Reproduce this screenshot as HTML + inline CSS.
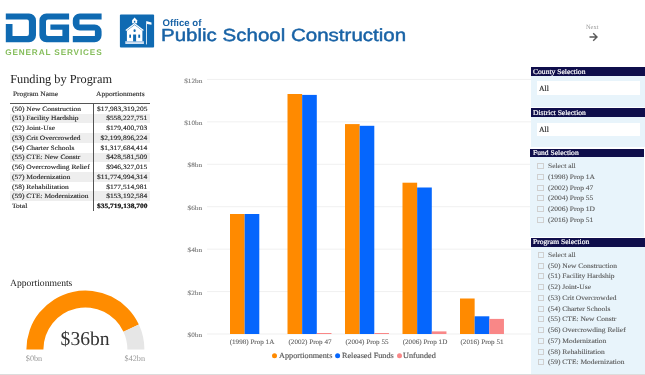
<!DOCTYPE html>
<html><head><meta charset="utf-8">
<style>
html,body{margin:0;padding:0;background:#fff;width:645px;height:375px;overflow:hidden;position:relative;text-rendering:geometricPrecision}
*{box-sizing:border-box}
svg{position:absolute;left:0;top:0}
</style></head><body><div style="position:absolute;left:0;top:0;width:645px;height:375px;will-change:transform">
<svg width="645" height="375" viewBox="0 0 645 375">
<g fill="#0f6ab2">
<path d="M5.8 13.4 H29 A7 7 0 0 1 36 20.4 V35.2 A7 7 0 0 1 29 42.2 H5.8 V23.9 H12.5 V35.9 H27 A1.9 1.9 0 0 0 28.9 34 V21.5 A1.9 1.9 0 0 0 27 19.6 H5.8 Z"/>
<path d="M69.1 13.4 H46.4 A7 7 0 0 0 39.4 20.4 V35.2 A7 7 0 0 0 46.4 42.2 H69.1 V24.4 H50.4 V29.7 H62.4 V35.9 H48 A2 2 0 0 1 46 33.9 V21.6 A2 2 0 0 1 48 19.6 H69.1 Z"/>
<path d="M101.6 13.4 H79.8 A7 7 0 0 0 72.8 20.4 V23.6 A7 7 0 0 0 79.8 30.6 H94.9 V35.9 H72.8 V42.2 H94.6 A7 7 0 0 0 101.6 35.2 V31.4 A7 7 0 0 0 94.6 24.4 H79.5 V19.6 H101.6 Z"/>
</g>
<rect x="119.9" y="14.4" width="34.2" height="33.0" rx="1" fill="#0f6ab2"/>
<g fill="#fff">
<path d="M132.1 23.2 V20.3 L134.6 17.6 L137.1 20.3 V23.2 Z"/>
<path d="M125.4 30.0 L134.6 22.9 L143.8 30.0 L143.0 30.9 L134.6 24.4 L126.2 30.9 Z"/>
<path d="M126.9 30.8 L134.6 25.0 L142.4 30.8 V41.4 H126.9 Z"/>
<rect x="146.2" y="21.2" width="0.8" height="23.2"/>
<path d="M147.0 21.3 L151.5 22.4 L151.5 24.8 L147.0 23.9 Z"/>
</g>
<rect x="125.3" y="41.4" width="18.6" height="2.6" fill="#d4e3f2"/>
<rect x="125.3" y="41.4" width="18.6" height="0.9" fill="#a9c6e6"/>
<g fill="#0f6ab2">
<rect x="133.9" y="20.8" width="1.4" height="1.8"/>
<ellipse cx="134.6" cy="30.7" rx="1.1" ry="1.4"/>
<rect x="133.1" y="34.5" width="3.0" height="6.9"/>
<rect x="129.3" y="34.6" width="1.7" height="3.2"/>
<rect x="138.3" y="34.6" width="1.8" height="3.2"/>
</g>
<path d="M589.5 37 H596.5 M593.2 33.3 L597 37 L593.2 40.7" stroke="#5a5a5a" stroke-width="1.4" fill="none"/>
</svg>
<div style="position:absolute;top:48.86px;font-family:'Liberation Sans',sans-serif;font-size:8.2px;line-height:1;white-space:nowrap;color:#86be5c;font-weight:bold;letter-spacing:0.87px;left:5.20px;">GENERAL SERVICES</div>
<div style="position:absolute;top:19.07px;font-family:'Liberation Sans',sans-serif;font-size:9.6px;line-height:1;white-space:nowrap;color:#1963a6;font-weight:bold;left:162.50px;">Office of</div>
<div style="position:absolute;top:27.39px;font-family:'Liberation Sans',sans-serif;font-size:17.5px;line-height:1;white-space:nowrap;color:#1963a6;left:161.30px;transform:scaleX(1.172);transform-origin:0 0;-webkit-text-stroke:0.45px #1963a6;">Public School Construction</div>
<div style="position:absolute;top:24.94px;font-family:'Liberation Serif',serif;font-size:6.4px;line-height:1;white-space:nowrap;color:#999;left:586.00px;">Next</div>
<div style="position:absolute;top:72.70px;font-family:'Liberation Serif',serif;font-size:12.3px;line-height:1;white-space:nowrap;color:#222;left:10.20px;">Funding by Program</div>
<div style="position:absolute;top:92.31px;font-family:'Liberation Serif',serif;font-size:6.8px;line-height:1;white-space:nowrap;color:#333;left:12.70px;transform:scaleX(1.09);transform-origin:0 0;-webkit-text-stroke:0.15px #333;">Program Name</div>
<div style="position:absolute;top:92.31px;font-family:'Liberation Serif',serif;font-size:6.8px;line-height:1;white-space:nowrap;color:#333;left:96.40px;transform:scaleX(1.1);transform-origin:0 0;-webkit-text-stroke:0.15px #333;">Apportionments</div>
<div style="position:absolute;left:10.00px;top:113.72px;width:140.00px;height:9.72px;background:#eeeeee;"></div>
<div style="position:absolute;left:10.00px;top:133.16px;width:140.00px;height:9.72px;background:#eeeeee;"></div>
<div style="position:absolute;left:10.00px;top:152.60px;width:140.00px;height:9.72px;background:#eeeeee;"></div>
<div style="position:absolute;left:10.00px;top:172.04px;width:140.00px;height:9.72px;background:#eeeeee;"></div>
<div style="position:absolute;left:10.00px;top:191.48px;width:140.00px;height:9.72px;background:#eeeeee;"></div>
<div style="position:absolute;top:106.77px;font-family:'Liberation Serif',serif;font-size:6.6px;line-height:1;white-space:nowrap;color:#222;left:12.30px;transform:scaleX(1.134);transform-origin:0 0;-webkit-text-stroke:0.12px #222;">(50) New Construction</div>
<div style="position:absolute;top:106.77px;font-family:'Liberation Serif',serif;font-size:6.6px;line-height:1;white-space:nowrap;color:#222;right:497.40px;transform:scaleX(1.134);transform-origin:100% 0;-webkit-text-stroke:0.12px #222;">$17,983,319,205</div>
<div style="position:absolute;top:116.49px;font-family:'Liberation Serif',serif;font-size:6.6px;line-height:1;white-space:nowrap;color:#222;left:12.30px;transform:scaleX(1.134);transform-origin:0 0;-webkit-text-stroke:0.12px #222;">(51) Facility Hardship</div>
<div style="position:absolute;top:116.49px;font-family:'Liberation Serif',serif;font-size:6.6px;line-height:1;white-space:nowrap;color:#222;right:497.40px;transform:scaleX(1.134);transform-origin:100% 0;-webkit-text-stroke:0.12px #222;">$558,227,751</div>
<div style="position:absolute;top:126.21px;font-family:'Liberation Serif',serif;font-size:6.6px;line-height:1;white-space:nowrap;color:#222;left:12.30px;transform:scaleX(1.134);transform-origin:0 0;-webkit-text-stroke:0.12px #222;">(52) Joint-Use</div>
<div style="position:absolute;top:126.21px;font-family:'Liberation Serif',serif;font-size:6.6px;line-height:1;white-space:nowrap;color:#222;right:497.40px;transform:scaleX(1.134);transform-origin:100% 0;-webkit-text-stroke:0.12px #222;">$179,400,703</div>
<div style="position:absolute;top:135.93px;font-family:'Liberation Serif',serif;font-size:6.6px;line-height:1;white-space:nowrap;color:#222;left:12.30px;transform:scaleX(1.134);transform-origin:0 0;-webkit-text-stroke:0.12px #222;">(53) Crit Overcrowded</div>
<div style="position:absolute;top:135.93px;font-family:'Liberation Serif',serif;font-size:6.6px;line-height:1;white-space:nowrap;color:#222;right:497.40px;transform:scaleX(1.134);transform-origin:100% 0;-webkit-text-stroke:0.12px #222;">$2,199,896,224</div>
<div style="position:absolute;top:145.65px;font-family:'Liberation Serif',serif;font-size:6.6px;line-height:1;white-space:nowrap;color:#222;left:12.30px;transform:scaleX(1.134);transform-origin:0 0;-webkit-text-stroke:0.12px #222;">(54) Charter Schools</div>
<div style="position:absolute;top:145.65px;font-family:'Liberation Serif',serif;font-size:6.6px;line-height:1;white-space:nowrap;color:#222;right:497.40px;transform:scaleX(1.134);transform-origin:100% 0;-webkit-text-stroke:0.12px #222;">$1,317,684,414</div>
<div style="position:absolute;top:155.37px;font-family:'Liberation Serif',serif;font-size:6.6px;line-height:1;white-space:nowrap;color:#222;left:12.30px;transform:scaleX(1.134);transform-origin:0 0;-webkit-text-stroke:0.12px #222;">(55) CTE: New Constr</div>
<div style="position:absolute;top:155.37px;font-family:'Liberation Serif',serif;font-size:6.6px;line-height:1;white-space:nowrap;color:#222;right:497.40px;transform:scaleX(1.134);transform-origin:100% 0;-webkit-text-stroke:0.12px #222;">$428,581,509</div>
<div style="position:absolute;top:165.09px;font-family:'Liberation Serif',serif;font-size:6.6px;line-height:1;white-space:nowrap;color:#222;left:12.30px;transform:scaleX(1.134);transform-origin:0 0;-webkit-text-stroke:0.12px #222;">(56) Overcrowding Relief</div>
<div style="position:absolute;top:165.09px;font-family:'Liberation Serif',serif;font-size:6.6px;line-height:1;white-space:nowrap;color:#222;right:497.40px;transform:scaleX(1.134);transform-origin:100% 0;-webkit-text-stroke:0.12px #222;">$946,327,015</div>
<div style="position:absolute;top:174.81px;font-family:'Liberation Serif',serif;font-size:6.6px;line-height:1;white-space:nowrap;color:#222;left:12.30px;transform:scaleX(1.134);transform-origin:0 0;-webkit-text-stroke:0.12px #222;">(57) Modernization</div>
<div style="position:absolute;top:174.81px;font-family:'Liberation Serif',serif;font-size:6.6px;line-height:1;white-space:nowrap;color:#222;right:497.40px;transform:scaleX(1.134);transform-origin:100% 0;-webkit-text-stroke:0.12px #222;">$11,774,994,314</div>
<div style="position:absolute;top:184.53px;font-family:'Liberation Serif',serif;font-size:6.6px;line-height:1;white-space:nowrap;color:#222;left:12.30px;transform:scaleX(1.134);transform-origin:0 0;-webkit-text-stroke:0.12px #222;">(58) Rehabilitation</div>
<div style="position:absolute;top:184.53px;font-family:'Liberation Serif',serif;font-size:6.6px;line-height:1;white-space:nowrap;color:#222;right:497.40px;transform:scaleX(1.134);transform-origin:100% 0;-webkit-text-stroke:0.12px #222;">$177,514,981</div>
<div style="position:absolute;top:194.25px;font-family:'Liberation Serif',serif;font-size:6.6px;line-height:1;white-space:nowrap;color:#222;left:12.30px;transform:scaleX(1.134);transform-origin:0 0;-webkit-text-stroke:0.12px #222;">(59) CTE: Modernization</div>
<div style="position:absolute;top:194.25px;font-family:'Liberation Serif',serif;font-size:6.6px;line-height:1;white-space:nowrap;color:#222;right:497.40px;transform:scaleX(1.134);transform-origin:100% 0;-webkit-text-stroke:0.12px #222;">$153,192,584</div>
<div style="position:absolute;top:203.97px;font-family:'Liberation Serif',serif;font-size:6.6px;line-height:1;white-space:nowrap;color:#222;left:12.30px;transform:scaleX(1.134);transform-origin:0 0;-webkit-text-stroke:0.12px #222;">Total</div>
<div style="position:absolute;top:203.97px;font-family:'Liberation Serif',serif;font-size:6.6px;line-height:1;white-space:nowrap;color:#111;font-weight:bold;right:497.40px;transform:scaleX(1.134);transform-origin:100% 0;-webkit-text-stroke:0.2px #111;">$35,719,138,700</div>
<div style="position:absolute;left:10.00px;top:103.00px;width:140.00px;height:1.20px;background:#555;"></div>
<div style="position:absolute;left:93.00px;top:103.00px;width:1.10px;height:107.80px;background:#555;"></div>
<svg width="645" height="375" viewBox="0 0 645 375"><path fill="#ff8c00" d="M26.40 349.50 A59.0 59.0 0 0 1 138.86 324.55 L123.46 331.74 A42.0 42.0 0 0 0 43.40 349.50 Z"/><path fill="#e6e6e6" d="M138.86 324.55 A59.0 59.0 0 0 1 144.40 349.50 L127.40 349.50 A42.0 42.0 0 0 0 123.46 331.74 Z"/></svg>
<div style="position:absolute;top:278.96px;font-family:'Liberation Serif',serif;font-size:9.6px;line-height:1;white-space:nowrap;color:#222;left:10.00px;">Apportionments</div>
<div style="position:absolute;top:329.98px;font-family:'Liberation Serif',serif;font-size:19.6px;line-height:1;white-space:nowrap;color:#333;left:-114.90px;width:400px;text-align:center;">$36bn</div>
<div style="position:absolute;top:354.63px;font-family:'Liberation Serif',serif;font-size:8.2px;line-height:1;white-space:nowrap;color:#999;left:25.80px;">$0bn</div>
<div style="position:absolute;top:354.63px;font-family:'Liberation Serif',serif;font-size:8.2px;line-height:1;white-space:nowrap;color:#999;right:500.00px;">$42bn</div>
<svg width="645" height="375" viewBox="0 0 645 375"><rect x="207" y="333.50" width="324" height="1" fill="#f0f0f0"/><rect x="207" y="291.07" width="324" height="1" fill="#f0f0f0"/><rect x="207" y="248.64" width="324" height="1" fill="#f0f0f0"/><rect x="207" y="206.21" width="324" height="1" fill="#f0f0f0"/><rect x="207" y="163.78" width="324" height="1" fill="#f0f0f0"/><rect x="207" y="121.35" width="324" height="1" fill="#f0f0f0"/><rect x="207" y="78.92" width="324" height="1" fill="#f0f0f0"/><rect x="230.00" y="214" width="14.65" height="120.00" fill="#ff8a00"/><rect x="244.65" y="214" width="14.65" height="120.00" fill="#0566fd"/><rect x="287.50" y="94.0" width="14.65" height="240.00" fill="#ff8a00"/><rect x="302.15" y="94.9" width="14.65" height="239.10" fill="#0566fd"/><rect x="316.80" y="333" width="14.65" height="1.00" fill="#f98787"/><rect x="345.00" y="124.1" width="14.65" height="209.90" fill="#ff8a00"/><rect x="359.65" y="125.8" width="14.65" height="208.20" fill="#0566fd"/><rect x="374.30" y="333" width="14.65" height="1.00" fill="#f98787"/><rect x="402.50" y="182.7" width="14.65" height="151.30" fill="#ff8a00"/><rect x="417.15" y="187.5" width="14.65" height="146.50" fill="#0566fd"/><rect x="431.80" y="331.4" width="14.65" height="2.60" fill="#f98787"/><rect x="460.00" y="298.5" width="14.65" height="35.50" fill="#ff8a00"/><rect x="474.65" y="316.3" width="14.65" height="17.70" fill="#0566fd"/><rect x="489.30" y="318.9" width="14.65" height="15.10" fill="#f98787"/><circle cx="274.5" cy="355.7" r="2.5" fill="#ff8a00"/><circle cx="337.6" cy="355.7" r="2.5" fill="#0566fd"/><circle cx="399.5" cy="355.7" r="2.5" fill="#f98787"/></svg>
<div style="position:absolute;top:333.16px;font-family:'Liberation Serif',serif;font-size:6.5px;line-height:1;white-space:nowrap;color:#777;right:443.00px;transform:scaleX(1.11);transform-origin:100% 0;-webkit-text-stroke:0.1px #777;">$0bn</div>
<div style="position:absolute;top:290.73px;font-family:'Liberation Serif',serif;font-size:6.5px;line-height:1;white-space:nowrap;color:#777;right:443.00px;transform:scaleX(1.11);transform-origin:100% 0;-webkit-text-stroke:0.1px #777;">$2bn</div>
<div style="position:absolute;top:248.30px;font-family:'Liberation Serif',serif;font-size:6.5px;line-height:1;white-space:nowrap;color:#777;right:443.00px;transform:scaleX(1.11);transform-origin:100% 0;-webkit-text-stroke:0.1px #777;">$4bn</div>
<div style="position:absolute;top:205.87px;font-family:'Liberation Serif',serif;font-size:6.5px;line-height:1;white-space:nowrap;color:#777;right:443.00px;transform:scaleX(1.11);transform-origin:100% 0;-webkit-text-stroke:0.1px #777;">$6bn</div>
<div style="position:absolute;top:163.44px;font-family:'Liberation Serif',serif;font-size:6.5px;line-height:1;white-space:nowrap;color:#777;right:443.00px;transform:scaleX(1.11);transform-origin:100% 0;-webkit-text-stroke:0.1px #777;">$8bn</div>
<div style="position:absolute;top:121.01px;font-family:'Liberation Serif',serif;font-size:6.5px;line-height:1;white-space:nowrap;color:#777;right:443.00px;transform:scaleX(1.11);transform-origin:100% 0;-webkit-text-stroke:0.1px #777;">$10bn</div>
<div style="position:absolute;top:78.58px;font-family:'Liberation Serif',serif;font-size:6.5px;line-height:1;white-space:nowrap;color:#777;right:443.00px;transform:scaleX(1.11);transform-origin:100% 0;-webkit-text-stroke:0.1px #777;">$12bn</div>
<div style="position:absolute;top:339.61px;font-family:'Liberation Serif',serif;font-size:6.8px;line-height:1;white-space:nowrap;color:#606060;left:52.47px;width:400px;text-align:center;transform:scaleX(1.045);transform-origin:50% 0;-webkit-text-stroke:0.1px #606060;">(1998) Prop 1A</div>
<div style="position:absolute;top:339.61px;font-family:'Liberation Serif',serif;font-size:6.8px;line-height:1;white-space:nowrap;color:#606060;left:109.98px;width:400px;text-align:center;transform:scaleX(1.045);transform-origin:50% 0;-webkit-text-stroke:0.1px #606060;">(2002) Prop 47</div>
<div style="position:absolute;top:339.61px;font-family:'Liberation Serif',serif;font-size:6.8px;line-height:1;white-space:nowrap;color:#606060;left:167.48px;width:400px;text-align:center;transform:scaleX(1.045);transform-origin:50% 0;-webkit-text-stroke:0.1px #606060;">(2004) Prop 55</div>
<div style="position:absolute;top:339.61px;font-family:'Liberation Serif',serif;font-size:6.8px;line-height:1;white-space:nowrap;color:#606060;left:224.98px;width:400px;text-align:center;transform:scaleX(1.045);transform-origin:50% 0;-webkit-text-stroke:0.1px #606060;">(2006) Prop 1D</div>
<div style="position:absolute;top:339.61px;font-family:'Liberation Serif',serif;font-size:6.8px;line-height:1;white-space:nowrap;color:#606060;left:282.48px;width:400px;text-align:center;transform:scaleX(1.045);transform-origin:50% 0;-webkit-text-stroke:0.1px #606060;">(2016) Prop 51</div>
<div style="position:absolute;top:351.88px;font-family:'Liberation Serif',serif;font-size:7.9px;line-height:1;white-space:nowrap;color:#555;left:279.00px;transform:scaleX(1.04);transform-origin:0 0;-webkit-text-stroke:0.15px #555;">Apportionments</div>
<div style="position:absolute;top:351.88px;font-family:'Liberation Serif',serif;font-size:7.9px;line-height:1;white-space:nowrap;color:#555;left:341.50px;transform:scaleX(1.04);transform-origin:0 0;-webkit-text-stroke:0.15px #555;">Released Funds</div>
<div style="position:absolute;top:351.88px;font-family:'Liberation Serif',serif;font-size:7.9px;line-height:1;white-space:nowrap;color:#555;left:403.20px;transform:scaleX(1.04);transform-origin:0 0;-webkit-text-stroke:0.15px #555;">Unfunded</div>
<div style="position:absolute;left:531.00px;top:67.20px;width:114.00px;height:8.60px;background:#0f0e4b;"></div>
<div style="position:absolute;top:68.77px;font-family:'Liberation Serif',serif;font-size:7.2px;line-height:1;white-space:nowrap;color:#fff;left:533.30px;transform:scaleX(1.055);transform-origin:0 0;-webkit-text-stroke:0.2px #fff;">County Selection</div>
<div style="position:absolute;left:531.00px;top:75.80px;width:114.00px;height:31.00px;background:#e8f4fb;"></div>
<div style="position:absolute;left:536.50px;top:81.00px;width:103.80px;height:14.30px;background:#fff;"></div>
<div style="position:absolute;top:84.85px;font-family:'Liberation Serif',serif;font-size:7.7px;line-height:1;white-space:nowrap;color:#222;left:539.00px;-webkit-text-stroke:0.15px #222;">All</div>
<div style="position:absolute;left:531.00px;top:108.40px;width:114.00px;height:8.40px;background:#0f0e4b;"></div>
<div style="position:absolute;top:109.97px;font-family:'Liberation Serif',serif;font-size:7.2px;line-height:1;white-space:nowrap;color:#fff;left:533.30px;transform:scaleX(1.055);transform-origin:0 0;-webkit-text-stroke:0.2px #fff;">District Selection</div>
<div style="position:absolute;left:531.00px;top:116.80px;width:114.00px;height:29.90px;background:#e8f4fb;"></div>
<div style="position:absolute;left:536.50px;top:122.50px;width:103.80px;height:13.10px;background:#fff;"></div>
<div style="position:absolute;top:125.55px;font-family:'Liberation Serif',serif;font-size:7.7px;line-height:1;white-space:nowrap;color:#222;left:539.00px;-webkit-text-stroke:0.15px #222;">All</div>
<div style="position:absolute;left:530.30px;top:148.70px;width:113.90px;height:8.30px;background:#0f0e4b;"></div>
<div style="position:absolute;top:150.27px;font-family:'Liberation Serif',serif;font-size:7.2px;line-height:1;white-space:nowrap;color:#fff;left:532.60px;transform:scaleX(1.055);transform-origin:0 0;-webkit-text-stroke:0.2px #fff;">Fund Selection</div>
<div style="position:absolute;left:530.30px;top:157.00px;width:113.90px;height:80.30px;background:#e8f4fb;"></div>
<div style="position:absolute;left:537.10px;top:162.90px;width:6.50px;height:6.00px;background:transparent;border:1px solid #d0d0d0;"></div>
<div style="position:absolute;top:163.91px;font-family:'Liberation Serif',serif;font-size:6.8px;line-height:1;white-space:nowrap;color:#585858;left:547.80px;transform:scaleX(1.1);transform-origin:0 0;-webkit-text-stroke:0.1px #585858;">Select all</div>
<div style="position:absolute;left:537.10px;top:173.70px;width:6.50px;height:6.00px;background:transparent;border:1px solid #d0d0d0;"></div>
<div style="position:absolute;top:174.71px;font-family:'Liberation Serif',serif;font-size:6.8px;line-height:1;white-space:nowrap;color:#585858;left:547.80px;transform:scaleX(1.1);transform-origin:0 0;-webkit-text-stroke:0.1px #585858;">(1998) Prop 1A</div>
<div style="position:absolute;left:537.10px;top:184.50px;width:6.50px;height:6.00px;background:transparent;border:1px solid #d0d0d0;"></div>
<div style="position:absolute;top:185.50px;font-family:'Liberation Serif',serif;font-size:6.8px;line-height:1;white-space:nowrap;color:#585858;left:547.80px;transform:scaleX(1.1);transform-origin:0 0;-webkit-text-stroke:0.1px #585858;">(2002) Prop 47</div>
<div style="position:absolute;left:537.10px;top:195.30px;width:6.50px;height:6.00px;background:transparent;border:1px solid #d0d0d0;"></div>
<div style="position:absolute;top:196.31px;font-family:'Liberation Serif',serif;font-size:6.8px;line-height:1;white-space:nowrap;color:#585858;left:547.80px;transform:scaleX(1.1);transform-origin:0 0;-webkit-text-stroke:0.1px #585858;">(2004) Prop 55</div>
<div style="position:absolute;left:537.10px;top:206.10px;width:6.50px;height:6.00px;background:transparent;border:1px solid #d0d0d0;"></div>
<div style="position:absolute;top:207.11px;font-family:'Liberation Serif',serif;font-size:6.8px;line-height:1;white-space:nowrap;color:#585858;left:547.80px;transform:scaleX(1.1);transform-origin:0 0;-webkit-text-stroke:0.1px #585858;">(2006) Prop 1D</div>
<div style="position:absolute;left:537.10px;top:216.90px;width:6.50px;height:6.00px;background:transparent;border:1px solid #d0d0d0;"></div>
<div style="position:absolute;top:217.91px;font-family:'Liberation Serif',serif;font-size:6.8px;line-height:1;white-space:nowrap;color:#585858;left:547.80px;transform:scaleX(1.1);transform-origin:0 0;-webkit-text-stroke:0.1px #585858;">(2016) Prop 51</div>
<div style="position:absolute;left:530.60px;top:237.60px;width:114.40px;height:9.00px;background:#0f0e4b;"></div>
<div style="position:absolute;top:239.17px;font-family:'Liberation Serif',serif;font-size:7.2px;line-height:1;white-space:nowrap;color:#fff;left:532.90px;transform:scaleX(1.055);transform-origin:0 0;-webkit-text-stroke:0.2px #fff;">Program Selection</div>
<div style="position:absolute;left:530.60px;top:246.60px;width:114.40px;height:127.00px;background:#e8f4fb;"></div>
<div style="position:absolute;left:537.60px;top:251.90px;width:6.50px;height:6.00px;background:transparent;border:1px solid #d0d0d0;"></div>
<div style="position:absolute;top:252.91px;font-family:'Liberation Serif',serif;font-size:6.8px;line-height:1;white-space:nowrap;color:#585858;left:548.30px;transform:scaleX(1.1);transform-origin:0 0;-webkit-text-stroke:0.1px #585858;">Select all</div>
<div style="position:absolute;left:537.60px;top:262.65px;width:6.50px;height:6.00px;background:transparent;border:1px solid #d0d0d0;"></div>
<div style="position:absolute;top:263.65px;font-family:'Liberation Serif',serif;font-size:6.8px;line-height:1;white-space:nowrap;color:#585858;left:548.30px;transform:scaleX(1.1);transform-origin:0 0;-webkit-text-stroke:0.1px #585858;">(50) New Construction</div>
<div style="position:absolute;left:537.60px;top:273.40px;width:6.50px;height:6.00px;background:transparent;border:1px solid #d0d0d0;"></div>
<div style="position:absolute;top:274.40px;font-family:'Liberation Serif',serif;font-size:6.8px;line-height:1;white-space:nowrap;color:#585858;left:548.30px;transform:scaleX(1.1);transform-origin:0 0;-webkit-text-stroke:0.1px #585858;">(51) Facility Hardship</div>
<div style="position:absolute;left:537.60px;top:284.15px;width:6.50px;height:6.00px;background:transparent;border:1px solid #d0d0d0;"></div>
<div style="position:absolute;top:285.15px;font-family:'Liberation Serif',serif;font-size:6.8px;line-height:1;white-space:nowrap;color:#585858;left:548.30px;transform:scaleX(1.1);transform-origin:0 0;-webkit-text-stroke:0.1px #585858;">(52) Joint-Use</div>
<div style="position:absolute;left:537.60px;top:294.90px;width:6.50px;height:6.00px;background:transparent;border:1px solid #d0d0d0;"></div>
<div style="position:absolute;top:295.90px;font-family:'Liberation Serif',serif;font-size:6.8px;line-height:1;white-space:nowrap;color:#585858;left:548.30px;transform:scaleX(1.1);transform-origin:0 0;-webkit-text-stroke:0.1px #585858;">(53) Crit Overcrowded</div>
<div style="position:absolute;left:537.60px;top:305.65px;width:6.50px;height:6.00px;background:transparent;border:1px solid #d0d0d0;"></div>
<div style="position:absolute;top:306.65px;font-family:'Liberation Serif',serif;font-size:6.8px;line-height:1;white-space:nowrap;color:#585858;left:548.30px;transform:scaleX(1.1);transform-origin:0 0;-webkit-text-stroke:0.1px #585858;">(54) Charter Schools</div>
<div style="position:absolute;left:537.60px;top:316.40px;width:6.50px;height:6.00px;background:transparent;border:1px solid #d0d0d0;"></div>
<div style="position:absolute;top:317.40px;font-family:'Liberation Serif',serif;font-size:6.8px;line-height:1;white-space:nowrap;color:#585858;left:548.30px;transform:scaleX(1.1);transform-origin:0 0;-webkit-text-stroke:0.1px #585858;">(55) CTE: New Constr</div>
<div style="position:absolute;left:537.60px;top:327.15px;width:6.50px;height:6.00px;background:transparent;border:1px solid #d0d0d0;"></div>
<div style="position:absolute;top:328.15px;font-family:'Liberation Serif',serif;font-size:6.8px;line-height:1;white-space:nowrap;color:#585858;left:548.30px;transform:scaleX(1.1);transform-origin:0 0;-webkit-text-stroke:0.1px #585858;">(56) Overcrowding Relief</div>
<div style="position:absolute;left:537.60px;top:337.90px;width:6.50px;height:6.00px;background:transparent;border:1px solid #d0d0d0;"></div>
<div style="position:absolute;top:338.90px;font-family:'Liberation Serif',serif;font-size:6.8px;line-height:1;white-space:nowrap;color:#585858;left:548.30px;transform:scaleX(1.1);transform-origin:0 0;-webkit-text-stroke:0.1px #585858;">(57) Modernization</div>
<div style="position:absolute;left:537.60px;top:348.65px;width:6.50px;height:6.00px;background:transparent;border:1px solid #d0d0d0;"></div>
<div style="position:absolute;top:349.65px;font-family:'Liberation Serif',serif;font-size:6.8px;line-height:1;white-space:nowrap;color:#585858;left:548.30px;transform:scaleX(1.1);transform-origin:0 0;-webkit-text-stroke:0.1px #585858;">(58) Rehabilitation</div>
<div style="position:absolute;left:537.60px;top:359.40px;width:6.50px;height:6.00px;background:transparent;border:1px solid #d0d0d0;"></div>
<div style="position:absolute;top:360.40px;font-family:'Liberation Serif',serif;font-size:6.8px;line-height:1;white-space:nowrap;color:#585858;left:548.30px;transform:scaleX(1.1);transform-origin:0 0;-webkit-text-stroke:0.1px #585858;">(59) CTE: Modernization</div>
<div style="position:absolute;left:0.00px;top:373.50px;width:645.00px;height:1.50px;background:#dcdcdc;"></div>
</div></body></html>
